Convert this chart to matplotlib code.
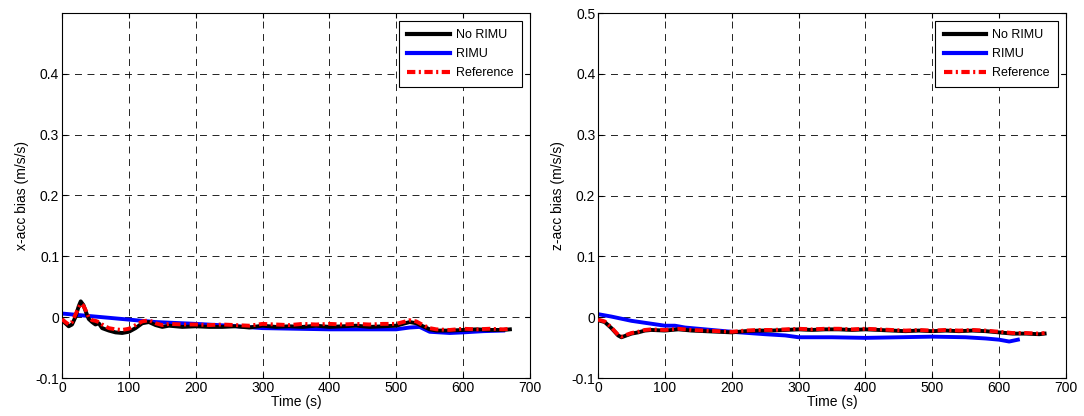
import matplotlib
matplotlib.use("Agg")
import matplotlib.pyplot as plt

plt.rcParams["font.family"] = ["Liberation Sans", "DejaVu Sans"]
plt.rcParams["font.size"] = 10
plt.rcParams["lines.scale_dashes"] = False

# ---- x-acc bias ----
tx_norimu = [0, 5, 10, 15, 20, 25, 28, 32, 36, 40, 45, 50, 55, 60, 70, 80, 90, 100,
             110, 120, 130, 140, 150, 160, 180, 200, 220, 240, 260, 280, 300, 320,
             340, 360, 380, 400, 420, 440, 460, 480, 500, 510, 520, 530, 540, 550,
             560, 580, 600, 620, 640, 660, 670]
x_norimu = [-0.005, -0.010, -0.015, -0.012, 0.000, 0.018, 0.026, 0.020, 0.008, -0.003,
            -0.008, -0.012, -0.010, -0.018, -0.022, -0.025, -0.026, -0.024, -0.018,
            -0.010, -0.008, -0.013, -0.016, -0.014, -0.016, -0.015, -0.016, -0.016,
            -0.015, -0.017, -0.014, -0.016, -0.015, -0.016, -0.014, -0.016, -0.015,
            -0.014, -0.016, -0.015, -0.014, -0.011, -0.008, -0.010, -0.015, -0.020,
            -0.022, -0.022, -0.021, -0.020, -0.021, -0.021, -0.020]
x_ref = [-0.003, -0.008, -0.012, -0.008, 0.004, 0.016, 0.022, 0.019, 0.010, 0.000,
         -0.005, -0.006, -0.008, -0.012, -0.018, -0.020, -0.021, -0.019, -0.013,
         -0.007, -0.005, -0.010, -0.013, -0.011, -0.012, -0.012, -0.013, -0.012,
         -0.013, -0.014, -0.011, -0.012, -0.013, -0.011, -0.012, -0.011, -0.012,
         -0.011, -0.012, -0.011, -0.011, -0.008, -0.005, -0.007, -0.013, -0.018,
         -0.020, -0.021, -0.019, -0.020, -0.019, -0.020, -0.019]
tx_rimu = [0, 20, 40, 60, 80, 100, 120, 140, 160, 200, 250, 300, 350, 400, 450, 500,
           520, 535, 550, 580, 600, 630, 660]
x_rimu = [0.006, 0.004, 0.002, 0.000, -0.002, -0.004, -0.006, -0.008, -0.009, -0.011,
          -0.014, -0.018, -0.019, -0.020, -0.020, -0.020, -0.017, -0.016, -0.024,
          -0.026, -0.025, -0.023, -0.022]

# ---- z-acc bias ----
tz_norimu = [0, 10, 20, 30, 35, 40, 50, 60, 70, 80, 100, 120, 140, 160, 180, 200, 220,
             240, 260, 280, 300, 320, 340, 360, 380, 400, 420, 440, 460, 480, 500, 520,
             540, 560, 580, 600, 620, 640, 660, 668]
z_norimu = [-0.005, -0.008, -0.018, -0.030, -0.033, -0.031, -0.027, -0.025, -0.022,
            -0.021, -0.022, -0.020, -0.022, -0.023, -0.024, -0.025, -0.023, -0.022,
            -0.022, -0.021, -0.020, -0.021, -0.020, -0.020, -0.021, -0.020, -0.021,
            -0.022, -0.023, -0.022, -0.023, -0.022, -0.023, -0.022, -0.023, -0.025,
            -0.027, -0.027, -0.028, -0.027]
z_ref = [-0.004, -0.007, -0.017, -0.029, -0.032, -0.030, -0.026, -0.024, -0.021,
         -0.020, -0.021, -0.019, -0.021, -0.022, -0.023, -0.024, -0.022, -0.021,
         -0.021, -0.020, -0.019, -0.020, -0.019, -0.019, -0.020, -0.019, -0.020,
         -0.021, -0.022, -0.021, -0.022, -0.021, -0.022, -0.021, -0.022, -0.024,
         -0.026, -0.026, -0.027, -0.026]
tz_rimu = [0, 20, 50, 100, 115, 130, 150, 200, 250, 280, 300, 350, 400, 450, 500, 550,
           580, 600, 615, 628]
z_rimu = [0.005, 0.001, -0.006, -0.014, -0.014, -0.017, -0.019, -0.024, -0.028, -0.030,
          -0.033, -0.033, -0.034, -0.033, -0.032, -0.033, -0.035, -0.037, -0.040, -0.037]

x_ticks = [0, 100, 200, 300, 400, 500, 600, 700]
y_ticks_left = [-0.1, 0, 0.1, 0.2, 0.3, 0.4]
y_ticks_right = [-0.1, 0, 0.1, 0.2, 0.3, 0.4, 0.5]

fig = plt.figure(figsize=(10.84, 4.16), dpi=100)
ax1 = fig.add_axes([0.0572, 0.0913, 0.4317, 0.8774])
ax2 = fig.add_axes([0.5517, 0.0913, 0.4317, 0.8774])


def draw(ax, t_no, y_no, t_r, y_r, y_ref, ylim, yticks, ylabel):
    ax.plot(t_no, y_no, color="black", lw=2.8, label="No RIMU", zorder=3)
    ax.plot(t_r, y_r, color="blue", lw=2.8, label="RIMU", zorder=2)
    ax.plot(t_no, y_ref, color="red", lw=2.8, ls=(0, (6, 2.5, 1.5, 2.5)),
            label="Reference", zorder=4)
    ax.set_xlim(0, 700)
    ax.set_ylim(*ylim)
    ax.set_xticks(x_ticks)
    ax.set_yticks(yticks)
    ax.set_yticklabels(["0" if v == 0 else f"{v:g}" for v in yticks])
    ax.grid(True, color="black", lw=0.6, ls=(0, (5, 4)))
    ax.set_axisbelow(True)
    ax.tick_params(direction="in", top=True, right=True, length=3.5, width=0.8,
                   labelsize=10, pad=2)
    for s in ax.spines.values():
        s.set_linewidth(0.8)
    ax.set_xlabel("Time (s)", fontsize=10, labelpad=0)
    ax.set_ylabel(ylabel, fontsize=10, labelpad=5)
    leg = ax.legend(loc="upper right", fancybox=False, framealpha=1,
                    edgecolor="black", fontsize=9, handlelength=3.4,
                    borderaxespad=0.65, labelspacing=0.55, handletextpad=0.5,
                    borderpad=0.65)
    leg.get_frame().set_linewidth(0.8)
    for h in leg.get_lines():
        h.set_linewidth(3)


draw(ax1, tx_norimu, x_norimu, tx_rimu, x_rimu, x_ref, (-0.1, 0.4999),
     y_ticks_left, "x-acc bias (m/s/s)")
draw(ax2, tz_norimu, z_norimu, tz_rimu, z_rimu, z_ref, (-0.1, 0.5),
     y_ticks_right, "z-acc bias (m/s/s)")

fig.savefig("out.png", dpi=100)
